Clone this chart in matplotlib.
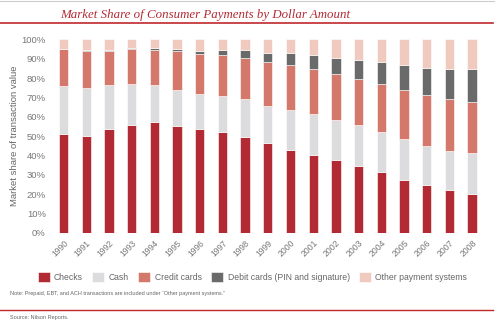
import matplotlib
matplotlib.use("Agg")
import matplotlib.pyplot as plt
from matplotlib import font_manager
import numpy as np

years = [str(y) for y in range(1990, 2009)]
checks = [50.9, 49.8, 53.4, 55.9, 57.1, 55.3, 53.6, 52.2, 49.3, 46.2, 42.6, 40.0, 37.6, 34.7, 31.4, 27.4, 24.8, 22.1, 20.2]
cash_top = [76.0, 74.8, 76.4, 76.9, 76.6, 74.0, 71.6, 70.9, 69.0, 65.5, 63.4, 61.4, 58.3, 55.7, 51.9, 48.3, 45.0, 42.4, 41.0]
credit_top = [94.8, 94.0, 94.1, 94.8, 94.7, 93.8, 92.4, 91.9, 90.5, 88.3, 86.9, 84.8, 81.9, 79.5, 76.7, 73.8, 71.2, 69.3, 67.6]
debit_top = [95.2, 94.5, 94.7, 95.3, 95.5, 94.8, 94.1, 94.7, 94.3, 92.8, 92.8, 91.7, 90.2, 89.1, 88.1, 86.6, 85.3, 84.8, 84.5]

cash = [c - k for c, k in zip(cash_top, checks)]
credit = [c - k for c, k in zip(credit_top, cash_top)]
debit = [d - c for d, c in zip(debit_top, credit_top)]
other = [100 - d for d in debit_top]

series_names = ["Checks", "Cash", "Credit cards", "Debit cards (PIN and signature)", "Other payment systems"]
colors = ["#B22A33", "#DCDCDE", "#D3786B", "#6A6A6A", "#F0CABF"]

names = {f.name for f in font_manager.fontManager.ttflist}
cond = "Liberation Sans Narrow" if "Liberation Sans Narrow" in names else "Liberation Sans"
plt.rcParams['font.family'] = [cond, 'DejaVu Sans']

fig = plt.figure(figsize=(4.95, 3.21), dpi=100)
ax = fig.add_axes([0.101, 0.275, 0.880, 0.6025])

x = np.arange(len(years))
bottom = np.zeros(len(years))
handles = []
for name, vals, col in zip(series_names, [checks, cash, credit, debit, other], colors):
    b = ax.bar(x, vals, width=0.41, bottom=bottom, color=col, edgecolor='white', linewidth=0.4, label=name)
    handles.append(b)
    bottom += np.array(vals)

ax.set_xlim(-0.6, 18.6)
ax.set_ylim(0, 100)
ax.set_yticks(range(0, 101, 10))
ax.set_yticklabels([f"{v}%" for v in range(0, 101, 10)], fontsize=6.8, color='#777777')
ax.set_xticks(x)
ax.set_xticklabels(years, rotation=45, ha='right', rotation_mode='anchor', fontsize=6.2, color='#777777')
ax.tick_params(axis='both', length=0, pad=3)
ax.tick_params(axis='x', pad=4)
for s in ax.spines.values():
    s.set_visible(False)
ax.set_ylabel("Market share of transaction value", fontsize=6.8, color='#666666')
ax.yaxis.set_label_coords(-0.072, 0.5)

fig.legend(handles=handles, labels=series_names, loc='center', bbox_to_anchor=(0.51, 0.138),
           ncol=5, frameon=False, fontsize=6.2, handlelength=1.4, handleheight=1.4,
           columnspacing=1.1, handletextpad=0.5, labelcolor='#666666')

fig.text(0.121, 0.953, "Market Share of Consumer Payments by Dollar Amount", fontsize=9.3,
         family='Liberation Serif', style='italic', color='#B22A33', va='center', ha='left')
fig.add_artist(plt.Line2D([0.0, 0.996], [0.927, 0.927], color='#C0272D', linewidth=1.2))
fig.add_artist(plt.Line2D([0.0, 1.0], [0.998, 0.998], color='#CCCCCC', linewidth=0.8))

fig.text(0.02, 0.086, "Note: Prepaid, EBT, and ACH transactions are included under \u201cOther payment systems.\u201d",
         fontsize=4.0, color='#666666', va='center', ha='left')
fig.add_artist(plt.Line2D([0.0, 0.996], [0.034, 0.034], color='#C0272D', linewidth=1.0))
fig.text(0.02, 0.012, "Source: Nilson Reports.", fontsize=4.0, color='#666666', va='center', ha='left')

fig.savefig("out.png", dpi=100)
